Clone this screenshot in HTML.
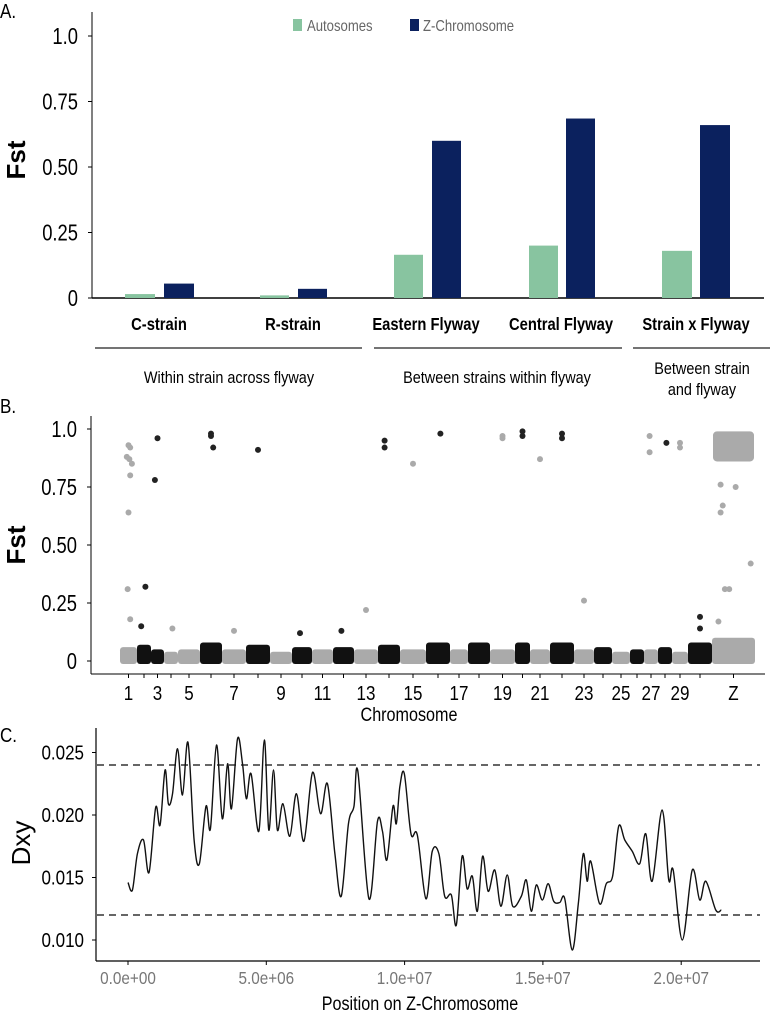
<!DOCTYPE html>
<html><head><meta charset="utf-8"><style>
body{margin:0;background:#fff;}
svg{display:block;font-family:"Liberation Sans",sans-serif;}
</style></head><body>
<svg id="s" width="782" height="1015" viewBox="0 0 782 1015">
<g id="A"></g>
<g id="B"></g>
<g id="C"></g>
</svg>
<script>
// ---------- Panel A data ----------
const aCats = ["C-strain","R-strain","Eastern Flyway","Central Flyway","Strain x Flyway"];
const aAuto = [0.015,0.010,0.165,0.200,0.180];
const aZ = [0.055,0.035,0.600,0.685,0.660];
const aTicks = [0,0.25,0.5,0.75,1.0];
const aTickLabels = ["0","0.25","0.50","0.75","1.0"];
// ---------- Panel B data ----------
const chrLen = [17,14,13,14,22,22,24,24,22,20,21,21,24,22,26,24,18,22,25,15,20,24,20,18,18,14,14,14,16,24,43];
const chrBlack = [0,1,1,0,0,1,0,1,0,1,0,1,0,1,0,1,0,1,0,1,0,1,0,1,0,1,0,1,0,1,0];
const chrCloud = [0.06,0.07,0.05,0.04,0.05,0.08,0.05,0.07,0.04,0.06,0.05,0.06,0.05,0.07,0.05,0.08,0.05,0.08,0.05,0.08,0.05,0.08,0.05,0.06,0.04,0.05,0.05,0.06,0.04,0.08,0.10];
const chrLabels = ["1","3","5","7","9","11","13","15","17","19","21","23","25","27","29","Z"];
const chrLabelIdx = [0,2,4,6,8,10,12,14,16,18,20,22,24,26,28,30];
const outChr = [0,0,0,0,0,0,0,0,0,1,2,2,3,5,5,5,7,13,13,14,15,18,18,19,19,20,21,21,22,26,26,27,28,28,29,29,12,6,1,9,11,30,30,30,30,30,30,30,30];
const outRel = [0.5,0.6,0.4,0.55,0.7,0.6,0.5,0.45,0.6,0.6,0.3,0.5,0.6,0.5,0.5,0.6,0.5,0.3,0.3,0.5,0.6,0.5,0.5,0.5,0.5,0.5,0.5,0.5,0.5,0.4,0.4,0.6,0.5,0.5,0.5,0.5,0.5,0.5,0.3,0.4,0.4,0.2,0.25,0.4,0.2,0.55,0.9,0.15,0.3];
const outFst = [0.93,0.92,0.88,0.87,0.85,0.80,0.64,0.31,0.18,0.32,0.78,0.96,0.14,0.98,0.97,0.92,0.91,0.95,0.92,0.85,0.98,0.97,0.96,0.99,0.97,0.87,0.98,0.96,0.26,0.97,0.90,0.94,0.94,0.92,0.19,0.14,0.22,0.13,0.15,0.12,0.13,0.76,0.67,0.31,0.64,0.75,0.42,0.17,0.31];
const bTicks = [0,0.25,0.5,0.75,1.0];
const bTickLabels = ["0","0.25","0.50","0.75","1.0"];
// ---------- Panel C data ----------
const posMb = [0,0.16,0.34,0.56,0.76,1.0,1.16,1.34,1.46,1.61,1.79,1.97,2.17,2.39,2.58,2.82,2.98,3.2,3.41,3.6,3.74,3.96,4.14,4.28,4.45,4.73,4.93,5.09,5.26,5.4,5.6,5.85,6.09,6.36,6.67,6.96,7.21,7.48,7.71,7.97,8.17,8.31,8.71,9.02,9.2,9.36,9.58,9.7,9.83,9.99,10.23,10.46,10.77,11.0,11.24,11.45,11.69,11.87,12.08,12.26,12.45,12.63,12.82,13.02,13.26,13.48,13.71,13.91,14.22,14.4,14.58,14.76,14.98,15.19,15.39,15.61,15.79,16.06,16.28,16.46,16.6,16.73,17.05,17.29,17.52,17.74,17.96,18.23,18.5,18.72,18.95,19.31,19.55,19.71,20.04,20.4,20.67,20.89,21.25,21.45];
const dxy = [0.0146,0.0140,0.0169,0.0180,0.0154,0.0206,0.0192,0.0236,0.0209,0.0217,0.0253,0.0216,0.0258,0.0180,0.0161,0.0207,0.0189,0.0256,0.0197,0.0241,0.0205,0.0261,0.0241,0.0213,0.0233,0.0187,0.0260,0.0188,0.0236,0.0188,0.0209,0.0183,0.0217,0.0179,0.0234,0.0201,0.0225,0.0169,0.0135,0.0193,0.0207,0.0235,0.0133,0.0195,0.0187,0.0164,0.0207,0.0193,0.0223,0.0233,0.0185,0.0184,0.0133,0.0171,0.0169,0.0135,0.0136,0.0112,0.0167,0.0141,0.0151,0.0123,0.0167,0.0139,0.0156,0.0127,0.0152,0.0127,0.0135,0.0148,0.0123,0.0144,0.0132,0.0145,0.0131,0.0130,0.0133,0.0092,0.0129,0.0169,0.0147,0.0163,0.0129,0.0145,0.0151,0.0191,0.0180,0.0171,0.0161,0.0185,0.0147,0.0204,0.0148,0.0156,0.0100,0.0156,0.0132,0.0147,0.0124,0.0124];
const cYTicks = [0.010,0.015,0.020,0.025];
const cYLabels = ["0.010","0.015","0.020","0.025"];
const cXTicks = [0,5,10,15,20];
const cXLabels = ["0.0e+00","5.0e+06","1.0e+07","1.5e+07","2.0e+07"];
const cThresh = [0.024,0.012];

const NS="http://www.w3.org/2000/svg";
function mk(parent,tag,attrs,text){const e=document.createElementNS(NS,tag);for(const k in attrs)e.setAttribute(k,attrs[k]);if(text!==undefined)e.textContent=text;parent.appendChild(e);return e;}
function cond(xr,s){return `translate(${xr*(1-s)},0) scale(${s},1)`;}

// ===== Panel A =====
(function(){
const g=document.getElementById('A');
const y=v=>298-v*262;
let t=mk(g,'text',{x:0,y:18,'font-size':20,transform:cond(0,0.85)},'A.');

let ax=mk(g,'line',{x1:92,y1:12,x2:92,y2:298,stroke:'#000','stroke-width':1});

let xa=mk(g,'line',{x1:92,y1:298,x2:764,y2:298,stroke:'#000','stroke-width':1.5});

aTicks.forEach((v,i)=>{
 let l=mk(g,'line',{x1:88,y1:y(v),x2:92,y2:y(v),stroke:'#000'});
 
 let tx=mk(g,'text',{x:78,y:y(v)+8,'font-size':23,'text-anchor':'end',transform:cond(78,0.8)},aTickLabels[i]);
 
});
let yt=mk(g,'text',{x:0,y:0,'font-size':26,'font-weight':'bold',transform:'translate(25,160) rotate(-90)','text-anchor':'middle'},'Fst');

const autoX=[125,260,394,529,662], zX=[164,298,432,566,700], bw=[30,29,29,29,30];
aCats.forEach((c,i)=>{
 let b1=mk(g,'rect',{x:autoX[i],y:y(aAuto[i]),width:bw[i],height:298-y(aAuto[i]),fill:'#88c4a0'});
 
 let b2=mk(g,'rect',{x:zX[i],y:y(aZ[i]),width:bw[i],height:298-y(aZ[i]),fill:'#0b215e'});
 
});
const labX=[159,293,426,561,696];
aCats.forEach((c,i)=>{
 let tx=mk(g,'text',{x:labX[i],y:330,'font-size':18,'font-weight':'bold','text-anchor':'middle',transform:cond(labX[i],0.82)},c);
 
});
[[95,362],[374,622],[633,770]].forEach(s=>{
 let l=mk(g,'line',{x1:s[0],y1:348,x2:s[1],y2:348,stroke:'#222','stroke-width':1.3});
 
});
[['Within strain across flyway',229,383],['Between strains within flyway',497,383],['Between strain',702,374],['and flyway',702,395]].forEach(a=>{
 let tx=mk(g,'text',{x:a[1],y:a[2],'font-size':17,'text-anchor':'middle',transform:cond(a[1],0.85)},a[0]);
 
});
let lg=mk(g,'g',{});
let s1=mk(lg,'rect',{x:293,y:19,width:9,height:12,fill:'#88c4a0'});
let l1=mk(lg,'text',{x:307,y:31,'font-size':16,fill:'#666',transform:cond(307,0.82)},'Autosomes');
let s2=mk(lg,'rect',{x:410,y:19,width:9,height:12,fill:'#0b215e'});
let l2=mk(lg,'text',{x:423,y:31,'font-size':16,fill:'#666',transform:cond(423,0.82)},'Z-Chromosome');
})();

// ===== Panel B =====
(function(){
const g=document.getElementById('B');
const y=v=>661-v*232;
const total=chrLen.reduce((a,b)=>a+b,0);
const x0=120,x1=755;
const xs=u=>x0+u/total*(x1-x0);
const starts=[];let acc=0;chrLen.forEach(l=>{starts.push(acc);acc+=l;});
let t=mk(g,'text',{x:0,y:413,'font-size':20,transform:cond(0,0.85)},'B.');

let ax=mk(g,'line',{x1:91,y1:416,x2:91,y2:674,stroke:'#000'});
let xa=mk(g,'line',{x1:91,y1:674,x2:765,y2:674,stroke:'#000'});
bTicks.forEach((v,i)=>{
 let l=mk(g,'line',{x1:87,y1:y(v),x2:91,y2:y(v),stroke:'#000'});
 let tx=mk(g,'text',{x:77,y:y(v)+8,'font-size':23,'text-anchor':'end',transform:cond(77,0.8)},bTickLabels[i]);
 
});
let yt=mk(g,'text',{x:0,y:0,'font-size':26,'font-weight':'bold',transform:'translate(25,545) rotate(-90)','text-anchor':'middle'},'Fst');

chrLen.forEach((l,i)=>{
 const col=chrBlack[i]?'#111':'#aaa';
 const xa1=xs(starts[i]),xa2=xs(starts[i]+l);
 let r=mk(g,'rect',{x:xa1,y:y(chrCloud[i]),width:xa2-xa1,height:y(0)+3-y(chrCloud[i]),rx:3,fill:col});
 
 let tk=mk(g,'line',{x1:xs(starts[i]+l/2),y1:674,x2:xs(starts[i]+l/2),y2:678,stroke:'#000'});
 
});
const zi=30;
let zb=mk(g,'rect',{x:xs(starts[zi])+1,y:y(0.99),width:xs(starts[zi]+chrLen[zi])-xs(starts[zi])-2,height:y(0.86)-y(0.99),rx:4,fill:'#aaa'});

outChr.forEach((c,i)=>{
 const col=chrBlack[c]?'#222':'#aaa';
 let p=mk(g,'circle',{cx:xs(starts[c]+chrLen[c]*outRel[i]),cy:y(outFst[i]),r:3,fill:col});
 
});
chrLabels.forEach((lab,i)=>{
 const c=chrLabelIdx[i];
 const cx=xs(starts[c]+chrLen[c]/2);
 let tx=mk(g,'text',{x:cx,y:700,'font-size':20,'text-anchor':'middle',transform:cond(cx,0.85)},lab);
 
});
let xt=mk(g,'text',{x:409,y:721,'font-size':19,'text-anchor':'middle',transform:cond(409,0.85)},'Chromosome');

})();

// ===== Panel C =====
(function(){
const g=document.getElementById('C');
const x=v=>128+v*27.66;
const y=v=>940-(v-0.010)*12500;
let t=mk(g,'text',{x:0,y:742,'font-size':20,transform:cond(0,0.85)},'C.');

let ax=mk(g,'line',{x1:96,y1:728,x2:96,y2:961,stroke:'#000','stroke-width':1.2});
let xa=mk(g,'line',{x1:96,y1:961,x2:760,y2:961,stroke:'#000','stroke-width':1.2});
cYTicks.forEach((v,i)=>{
 let l=mk(g,'line',{x1:92,y1:y(v),x2:96,y2:y(v),stroke:'#000'});
 let tx=mk(g,'text',{x:84,y:y(v)+7,'font-size':20,'text-anchor':'end',transform:cond(84,0.85)},cYLabels[i]);
 
});
cXTicks.forEach((v,i)=>{
 let l=mk(g,'line',{x1:x(v),y1:961,x2:x(v),y2:965,stroke:'#000'});
 let tx=mk(g,'text',{x:x(v),y:984,'font-size':18,'text-anchor':'middle',fill:'#777',transform:cond(x(v),0.85)},cXLabels[i]);
 
});
let yt=mk(g,'text',{x:0,y:0,'font-size':26,transform:'translate(30,843) rotate(-90)','text-anchor':'middle'},'Dxy');

let xt=mk(g,'text',{x:420,y:1010,'font-size':19,'text-anchor':'middle',transform:cond(420,0.85)},'Position on Z-Chromosome');

cThresh.forEach(v=>{
 let l=mk(g,'line',{x1:97,y1:y(v),x2:760,y2:y(v),stroke:'#333','stroke-width':1.5,'stroke-dasharray':'7,5'});
 
});
const P=posMb.map((p,i)=>[x(p),y(dxy[i])]);
let d=`M${P[0][0]},${P[0][1]}`;
for(let i=0;i<P.length-1;i++){
 const p0=P[Math.max(0,i-1)],p1=P[i],p2=P[i+1],p3=P[Math.min(P.length-1,i+2)];
 const c1=[p1[0]+(p2[0]-p0[0])/6,p1[1]+(p2[1]-p0[1])/6];
 const c2=[p2[0]-(p3[0]-p1[0])/6,p2[1]-(p3[1]-p1[1])/6];
 d+=` C${c1[0]},${c1[1]} ${c2[0]},${c2[1]} ${p2[0]},${p2[1]}`;
}
let path=mk(g,'path',{d:d,fill:'none',stroke:'#111','stroke-width':1.4});

})();
</script>
</body></html>
